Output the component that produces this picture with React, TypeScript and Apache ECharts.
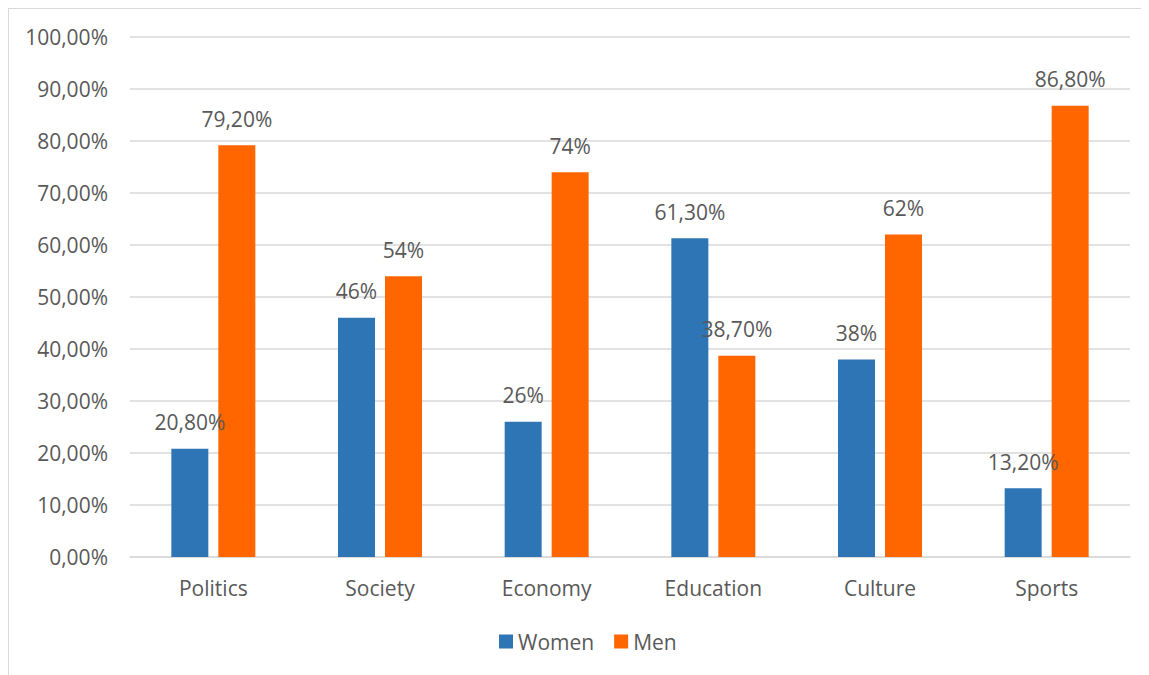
import React, { useEffect, useRef } from "react";
import * as echarts from "echarts";

const categories = ["Politics", "Society", "Economy", "Education", "Culture", "Sports"];
const women = [20.8, 46, 26, 61.3, 38, 13.2];
const men = [79.2, 54, 74, 38.7, 62, 86.8];

const TEXT = "#595959";
const FONT = "'Open Sans', 'Liberation Sans', sans-serif";
const FS = 21;

const fmtValue = (v: number) =>
  Number.isInteger(v) ? `${v}%` : `${v.toFixed(2).replace(".", ",")}%`;
const fmtAxis = (v: number) => `${v.toFixed(2).replace(".", ",")}%`;

export default function App() {
  const ref = useRef<HTMLDivElement>(null);

  useEffect(() => {
    if (!ref.current) return;
    const chart = echarts.init(ref.current, undefined, { renderer: "svg" });
    const label = {
      show: true,
      position: "top" as const,
      distance: 16,
      color: TEXT,
      fontSize: FS,
      fontFamily: FONT,
      formatter: (p: any) => fmtValue(p.value),
    };
    chart.setOption({
      animation: false,
      backgroundColor: "#ffffff",
      textStyle: { fontFamily: FONT },
      grid: { left: 121, right: 19, top: 28, height: 520, containLabel: false },
      legend: {
        left: 485,
        top: 617,
        icon: "rect",
        itemWidth: 14,
        itemHeight: 14,
        itemGap: 20,
        textStyle: { color: TEXT, fontSize: FS, fontFamily: FONT },
        data: ["Women", "Men"],
      },
      xAxis: {
        type: "category",
        data: categories,
        axisLine: { show: true, lineStyle: { color: "#d9d9d9", width: 1.5 } },
        axisTick: { show: false },
        axisLabel: { color: TEXT, fontSize: FS, fontFamily: FONT, margin: 20 },
      },
      yAxis: {
        type: "value",
        min: 0,
        max: 100,
        interval: 10,
        axisLine: { show: false },
        axisTick: { show: false },
        splitLine: { lineStyle: { color: "#d9d9d9", width: 1.5 } },
        axisLabel: {
          color: TEXT,
          fontSize: FS,
          fontFamily: FONT,
          margin: 22,
          formatter: fmtAxis,
        },
      },
      series: [
        {
          name: "Women",
          type: "bar",
          data: women,
          barWidth: 37,
          barGap: "27%",
          itemStyle: { color: "#2E75B6" },
          label,
        },
        {
          name: "Men",
          type: "bar",
          data: men,
          barWidth: 37,
          itemStyle: { color: "#FF6600" },
          label,
        },
      ],
    });
    return () => chart.dispose();
  }, []);

  return (
    <div style={{ border: "1px solid #d9d9d9", width: 1200, height: 700, background: "#fff" }}>
      <div ref={ref} style={{ width: 1140, height: 666 }} />
    </div>
  );
}
